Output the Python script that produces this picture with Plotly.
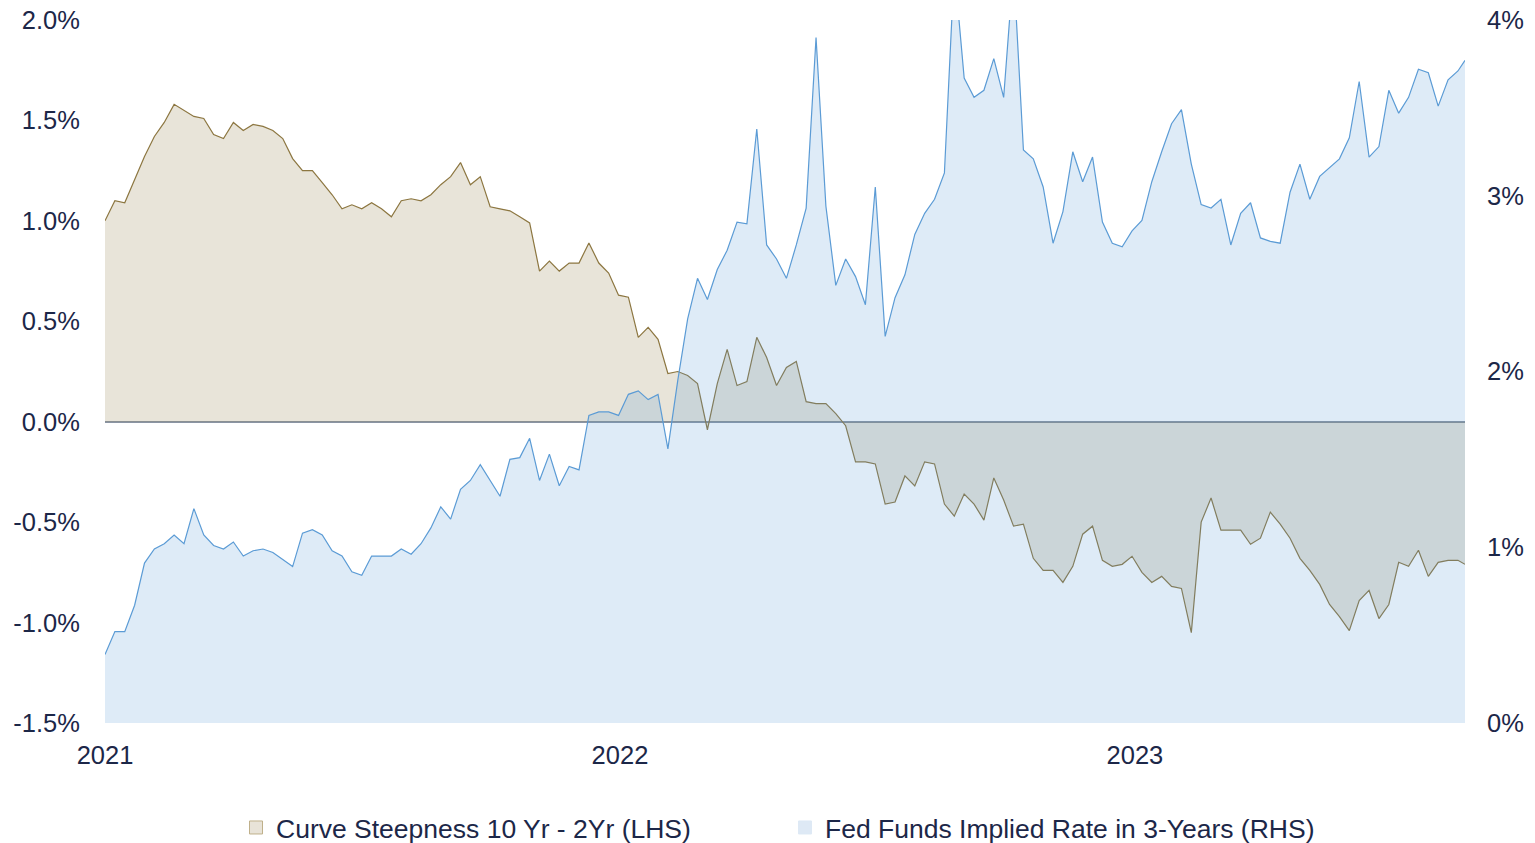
import pandas as pd
import plotly.graph_objects as go

# Weekly observation dates (plus final observation)
dates = list(pd.date_range("2021-01-01", periods=138, freq="7D").strftime("%Y-%m-%d")) + ["2023-08-23"]

# Curve Steepness 10 Yr - 2Yr (LHS), in %
curve_steepness = [
    1.00, 1.10, 1.09, 1.21, 1.32, 1.42, 1.49, 1.58, 1.55, 1.52,
    1.51, 1.43, 1.41, 1.49, 1.45, 1.48, 1.47, 1.45, 1.41, 1.31,
    1.25, 1.25, 1.19, 1.13, 1.06, 1.08, 1.06, 1.09, 1.06, 1.02,
    1.10, 1.11, 1.10, 1.13, 1.18, 1.22, 1.29, 1.18, 1.22, 1.07,
    1.06, 1.05, 1.02, 0.99, 0.75, 0.80, 0.75, 0.79, 0.79, 0.89,
    0.79, 0.74, 0.63, 0.62, 0.42, 0.47, 0.41, 0.24, 0.25, 0.23,
    0.19, -0.04, 0.19, 0.36, 0.18, 0.20, 0.42, 0.32, 0.18, 0.27,
    0.30, 0.10, 0.09, 0.09, 0.04, -0.02, -0.20, -0.20, -0.21, -0.41,
    -0.40, -0.27, -0.32, -0.20, -0.21, -0.41, -0.47, -0.36, -0.41, -0.49,
    -0.28, -0.39, -0.52, -0.51, -0.68, -0.74, -0.74, -0.80, -0.72, -0.56,
    -0.52, -0.69, -0.72, -0.71, -0.67, -0.75, -0.80, -0.77, -0.82, -0.83,
    -1.05, -0.50, -0.38, -0.54, -0.54, -0.54, -0.61, -0.58, -0.45, -0.51,
    -0.58, -0.68, -0.74, -0.81, -0.91, -0.97, -1.04, -0.89, -0.84, -0.98,
    -0.91, -0.70, -0.72, -0.64, -0.77, -0.70, -0.69, -0.69, -0.71,
]

# Fed Funds Implied Rate in 3-Years (RHS), in %
fed_funds_3y = [
    0.39, 0.52, 0.52, 0.67, 0.91, 0.99, 1.02, 1.07, 1.02, 1.22,
    1.07, 1.01, 0.99, 1.03, 0.95, 0.98, 0.99, 0.97, 0.93, 0.89,
    1.08, 1.10, 1.07, 0.98, 0.95, 0.86, 0.84, 0.95, 0.95, 0.95,
    0.99, 0.96, 1.02, 1.11, 1.23, 1.16, 1.33, 1.38, 1.47, 1.38,
    1.29, 1.50, 1.51, 1.62, 1.38, 1.53, 1.35, 1.46, 1.44, 1.75,
    1.77, 1.77, 1.75, 1.87, 1.89, 1.84, 1.87, 1.56, 1.95, 2.30,
    2.53, 2.41, 2.58, 2.69, 2.85, 2.84, 3.38, 2.72, 2.64, 2.53,
    2.72, 2.93, 3.90, 2.94, 2.49, 2.64, 2.54, 2.38, 3.05, 2.20,
    2.42, 2.55, 2.78, 2.90, 2.98, 3.13, 4.30, 3.67, 3.56, 3.60,
    3.78, 3.56, 4.30, 3.26, 3.21, 3.05, 2.73, 2.91, 3.25, 3.08,
    3.22, 2.85, 2.73, 2.71, 2.80, 2.86, 3.08, 3.25, 3.41, 3.49,
    3.18, 2.95, 2.93, 2.98, 2.72, 2.90, 2.96, 2.76, 2.74, 2.73,
    3.02, 3.18, 2.98, 3.11, 3.16, 3.21, 3.33, 3.65, 3.22, 3.28,
    3.60, 3.47, 3.56, 3.72, 3.70, 3.51, 3.66, 3.71, 3.77,
]

left_tickvals = [-1.5, -1.0, -0.5, 0.0, 0.5, 1.0, 1.5, 2.0]
left_ticktext = ["-1.5%", "-1.0%", "-0.5%", "0.0%", "0.5%", "1.0%", "1.5%", "2.0%"]
right_tickvals = [0, 1, 2, 3, 4]
right_ticktext = ["0%", "1%", "2%", "3%", "4%"]
x_tickvals = ["2021-01-01", "2022-01-01", "2023-01-01"]
x_ticktext = ["2021", "2022", "2023"]

TEXT = "#1C2748"
BROWN = "#8C7640"
BROWN_FILL = "rgba(140,118,64,0.20)"
BLUE = "#5B9BD5"
BLUE_FILL = "rgba(91,155,213,0.20)"
FONT = "Liberation Sans, Arial, sans-serif"

fig = go.Figure()

fig.add_trace(go.Scatter(
    x=dates, y=curve_steepness, mode="lines", fill="tozeroy",
    line=dict(color=BROWN, width=1.2), fillcolor=BROWN_FILL,
    name="Curve Steepness 10 Yr - 2Yr (LHS)", yaxis="y", showlegend=False,
))
fig.add_trace(go.Scatter(
    x=dates, y=fed_funds_3y, mode="lines", fill="tozeroy",
    line=dict(color=BLUE, width=1.2), fillcolor=BLUE_FILL,
    name="Fed Funds Implied Rate in 3-Years (RHS)", yaxis="y2", showlegend=False,
))

# legend entries (small squares)
fig.add_trace(go.Scatter(
    x=[None], y=[None], mode="markers", name="Curve Steepness 10 Yr - 2Yr (LHS)",
    marker=dict(symbol="square", size=13, color="#E8E3D8", line=dict(color="#BFB08A", width=1)),
))
fig.add_trace(go.Scatter(
    x=[None], y=[None], mode="markers", name="Fed Funds Implied Rate in 3-Years (RHS)",
    marker=dict(symbol="square", size=13, color="#DEE9F5", line=dict(color="#DEE9F5", width=1)),
))

fig.update_layout(
    width=1535, height=843,
    margin=dict(l=105, r=70, t=20, b=120, autoexpand=False),
    paper_bgcolor="white", plot_bgcolor="white",
    font=dict(family=FONT, size=25.5, color=TEXT),
    hovermode=False,
    xaxis=dict(
        type="date", range=["2021-01-01", "2023-08-23"],
        tickvals=x_tickvals, ticktext=x_ticktext,
        showgrid=False, zeroline=False, showline=False,
        ticks="outside", ticklen=9, tickcolor="rgba(0,0,0,0)",
        tickfont=dict(size=25.5, color=TEXT),
    ),
    yaxis=dict(
        range=[-1.5, 2.0], tickvals=left_tickvals, ticktext=left_ticktext,
        showgrid=False, showline=False,
        zeroline=True, zerolinecolor="#8A94A3", zerolinewidth=2,
        ticks="outside", ticklen=19, tickcolor="rgba(0,0,0,0)",
        tickfont=dict(size=25.5, color=TEXT),
    ),
    yaxis2=dict(
        range=[0, 4], tickvals=right_tickvals, ticktext=right_ticktext,
        overlaying="y", side="right",
        showgrid=False, showline=False, zeroline=False,
        ticks="outside", ticklen=16, tickcolor="rgba(0,0,0,0)",
        tickfont=dict(size=25.5, color=TEXT),
    ),
    legend=dict(
        orientation="h", x=0.5, xanchor="center", y=-0.149, yanchor="middle",
        font=dict(size=26.5, color=TEXT), entrywidth=504, entrywidthmode="pixels",
        itemwidth=30, bgcolor="rgba(0,0,0,0)",
    ),
    showlegend=True,
)

fig.write_html(
    "out.html",
    config={"displayModeBar": False},
    post_script="document.body.style.margin='0';",
)
